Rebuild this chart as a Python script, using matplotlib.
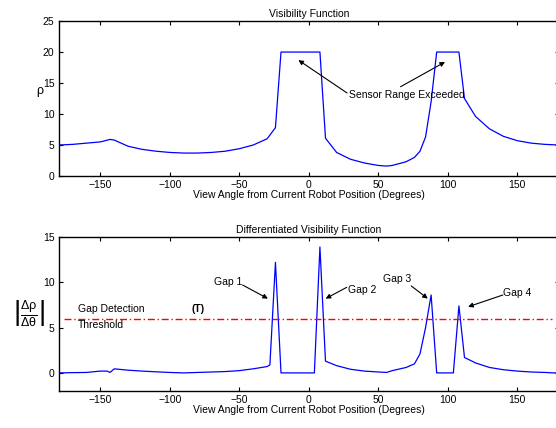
import numpy as np
import matplotlib.pyplot as plt

plt.rcParams['font.family'] = ['Liberation Sans', 'DejaVu Sans']
plt.rcParams['mathtext.fontset'] = 'custom'
plt.rcParams['mathtext.rm'] = 'Liberation Sans'
plt.rcParams['mathtext.it'] = 'Liberation Sans'

# visibility function (range vs view angle)
theta = [-180, -170, -160, -150, -143, -140, -130, -120, -110, -100, -90, -80,
         -70, -60, -50, -40, -30, -24, -20, 8, 12, 20, 30, 40, 50, 56, 60,
         70, 76, 80, 84, 88, 92, 108, 112, 120, 130, 140, 150, 160, 170, 180]
rho = [5.0, 5.1, 5.3, 5.5, 5.9, 5.8, 4.8, 4.3, 4.0, 3.8, 3.7, 3.7,
       3.8, 4.0, 4.4, 5.0, 6.0, 7.8, 20.0, 20.0, 6.1, 3.8, 2.7, 2.1, 1.7, 1.6, 1.7,
       2.3, 3.0, 4.0, 6.3, 12.0, 20.0, 20.0, 12.5, 9.6, 7.6, 6.4, 5.7, 5.3, 5.1, 5.0]

# differentiated visibility function
theta_d = [-180, -170, -160, -150, -145, -143, -140, -130, -120, -110, -100, -90,
           -80, -70, -60, -50, -40, -30, -28, -24, -20, 4, 8, 12, 20, 30, 40,
           50, 56, 60, 70, 76, 80, 84, 88, 92, 104, 108, 112, 120, 130, 140,
           150, 160, 170, 176, 180]
drho = [0.0, 0.03, 0.05, 0.2, 0.2, 0.05, 0.45, 0.3, 0.2, 0.12, 0.05, 0.0,
        0.05, 0.1, 0.15, 0.25, 0.45, 0.7, 0.88, 12.2, 0.0, 0.0, 13.9, 1.3, 0.8, 0.4, 0.2,
        0.1, 0.05, 0.25, 0.6, 1.0, 2.1, 5.0, 8.6, 0.0, 0.0, 7.4, 1.7, 1.1, 0.6, 0.35,
        0.2, 0.1, 0.05, 0.0, 0.0]

threshold = 6
xticks = [-150, -100, -50, 0, 50, 100, 150]
xlabel = 'View Angle from Current Robot Position (Degrees)'

fs = 7.5
fig = plt.figure(figsize=(5.56, 4.28), dpi=100)
ax1 = fig.add_axes([0.1054, 0.5888, 0.900, 0.362])
ax2 = fig.add_axes([0.1054, 0.0864, 0.900, 0.3598])

for ax in (ax1, ax2):
    ax.set_xlim(-180, 180)
    ax.set_xticks(xticks)
    ax.tick_params(direction='in', length=3, width=0.8, top=True, right=True,
                   labelsize=fs, pad=3)
    for s in ax.spines.values():
        s.set_linewidth(1.0)
    ax.set_xlabel(xlabel, fontsize=fs, labelpad=0)

# top plot
ax1.plot(theta, rho, color='b', lw=0.9)
ax1.set_ylim(0, 25)
ax1.set_yticks([0, 5, 10, 15, 20, 25])
ax1.set_title('Visibility Function', fontsize=fs, pad=3)
ax1.set_ylabel(r'$\rho$', fontsize=9, rotation=0, labelpad=2)

arr = dict(arrowstyle='-|>', color='k', lw=0.8, mutation_scale=7, shrinkA=0, shrinkB=0)
ax1.text(29, 13.1, 'Sensor Range Exceeded', fontsize=fs, va='center', ha='left')
ax1.annotate('', xy=(-7.5, 18.7), xytext=(27.5, 13.4), arrowprops=arr)
ax1.annotate('', xy=(98, 18.4), xytext=(66, 14.4), arrowprops=arr)

# bottom plot
ax2.plot(theta_d, drho, color='b', lw=0.9)
ax2.plot([-176, 175], [threshold, threshold], color=(1, 0, 0), ls=(0, (5, 2, 1, 2)), lw=1.0)
ax2.set_ylim(-2, 15)
ax2.set_yticks([0, 5, 10, 15])
ax2.set_title('Differentiated Visibility Function', fontsize=fs, pad=3)
ax2.set_ylabel(r'$\left|\frac{\Delta\rho}{\Delta\theta}\right|$', fontsize=13,
               rotation=0, labelpad=10, va='center')

ax2.text(-166, 7.1, 'Gap Detection', fontsize=fs, va='center', ha='left')
ax2.text(-166, 5.3, 'Threshold', fontsize=fs, va='center', ha='left')
ax2.text(-80, 7.1, '(T)', fontsize=fs, va='center', ha='center', fontweight='bold')

ax2.text(-48, 10.0, 'Gap 1', fontsize=fs, va='center', ha='right')
ax2.annotate('', xy=(-29.4, 8.2), xytext=(-47.6, 9.7), arrowprops=arr)
ax2.text(28, 9.2, 'Gap 2', fontsize=fs, va='center', ha='left')
ax2.annotate('', xy=(12.1, 8.2), xytext=(27.3, 9.45), arrowprops=arr)
ax2.text(73.5, 10.4, 'Gap 3', fontsize=fs, va='center', ha='right')
ax2.annotate('', xy=(85.6, 8.2), xytext=(73.7, 9.6), arrowprops=arr)
ax2.text(140, 8.8, 'Gap 4', fontsize=fs, va='center', ha='left')
ax2.annotate('', xy=(114.6, 7.3), xytext=(139.6, 8.6), arrowprops=arr)

fig.savefig('out.png', dpi=100)
